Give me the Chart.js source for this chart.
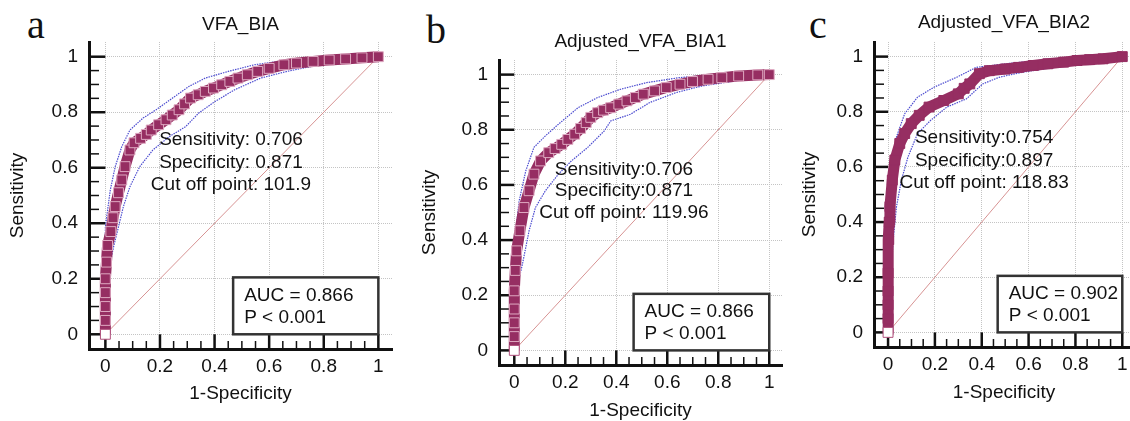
<!DOCTYPE html>
<html>
<head>
<meta charset="utf-8">
<script src="https://cdn.jsdelivr.net/npm/chart.js@4.4.1/dist/chart.umd.min.js"></script>
<style>
  html, body { margin: 0; padding: 0; background: #fff; overflow: hidden; }
  body { width: 1130px; height: 421px; position: relative; }
  canvas { position: absolute; top: 0; }
  .tag { position: absolute; font-family: "Liberation Serif", "Times New Roman", serif; font-size: 40px; line-height: 1; color: #111; }
</style>
</head>
<body>
<div class="tag" style="left:27px;top:5px">a</div>
<div class="tag" style="left:426px;top:10px">b</div>
<div class="tag" style="left:809px;top:5px">c</div>
<canvas id="rocA" width="400" height="440" style="left:0px"></canvas>
<canvas id="rocB" width="380" height="440" style="left:410px"></canvas>
<canvas id="rocC" width="352" height="440" style="left:790px"></canvas>
<script>
// ---- axis ticks ----
const tickVals = [0, 0.2, 0.4, 0.6, 0.8, 1];
const tickLabels = ['0', '0.2', '0.4', '0.6', '0.8', '1'];
const minorTicks = [0.05, 0.1, 0.15, 0.25, 0.3, 0.35, 0.45, 0.5, 0.55, 0.65, 0.7, 0.75, 0.85, 0.9, 0.95];
const diagX = [0, 1];
const diagY = [0, 1];

// ---- panel a : VFA_BIA ----
const rocA_x = [0, 0, 0, 0, 0, 0.004, 0.008, 0.02, 0.028, 0.036, 0.048, 0.06, 0.072, 0.09, 0.105, 0.129, 0.15, 0.168, 0.195, 0.222, 0.245, 0.27, 0.29, 0.312, 0.34, 0.366, 0.396, 0.426, 0.456, 0.486, 0.52, 0.558, 0.6, 0.654, 0.7, 0.761, 0.82, 0.88, 0.94, 1];
const rocA_y = [0, 0.05, 0.1, 0.15, 0.2, 0.26, 0.32, 0.37, 0.42, 0.46, 0.51, 0.556, 0.604, 0.664, 0.69, 0.706, 0.72, 0.736, 0.755, 0.773, 0.79, 0.809, 0.83, 0.851, 0.863, 0.875, 0.887, 0.899, 0.911, 0.923, 0.935, 0.947, 0.958, 0.971, 0.977, 0.983, 0.988, 0.992, 0.996, 1];
const upA_x = [0, 0, 0.018, 0.036, 0.06, 0.09, 0.138, 0.186, 0.246, 0.306, 0.366, 0.45, 0.546, 0.665, 0.785, 0.905, 1];
const upA_y = [0.3, 0.387, 0.52, 0.604, 0.676, 0.736, 0.779, 0.809, 0.851, 0.893, 0.923, 0.947, 0.971, 0.987, 0.995, 1, 1];
const loA_x = [0, 0.005, 0.016, 0.03, 0.048, 0.066, 0.09, 0.126, 0.174, 0.234, 0.294, 0.342, 0.402, 0.474, 0.569, 0.665, 0.785, 0.905, 1];
const loA_y = [0, 0.1, 0.25, 0.315, 0.387, 0.46, 0.532, 0.604, 0.664, 0.712, 0.748, 0.797, 0.839, 0.881, 0.923, 0.947, 0.971, 0.989, 1];

// ---- panel b : Adjusted_VFA_BIA1 ----
const rocB_x = [0, 0, 0, 0, 0, 0.004, 0.009, 0.022, 0.038, 0.058, 0.077, 0.103, 0.135, 0.16, 0.186, 0.21, 0.237, 0.26, 0.282, 0.3, 0.327, 0.35, 0.378, 0.41, 0.442, 0.475, 0.506, 0.55, 0.596, 0.65, 0.699, 0.76, 0.814, 0.88, 0.955, 1];
const rocB_y = [0, 0.05, 0.1, 0.15, 0.216, 0.29, 0.361, 0.434, 0.518, 0.579, 0.639, 0.687, 0.717, 0.732, 0.747, 0.765, 0.784, 0.805, 0.826, 0.845, 0.862, 0.871, 0.88, 0.893, 0.905, 0.917, 0.929, 0.941, 0.953, 0.965, 0.975, 0.983, 0.989, 0.995, 0.999, 1];
const upB_x = [0, 0, 0.019, 0.045, 0.077, 0.122, 0.173, 0.25, 0.327, 0.417, 0.519, 0.647, 0.776, 0.94, 1];
const upB_y = [0.3, 0.385, 0.542, 0.651, 0.736, 0.778, 0.82, 0.88, 0.917, 0.947, 0.971, 0.989, 0.999, 1, 1];
const loB_x = [0, 0.005, 0.016, 0.032, 0.058, 0.083, 0.122, 0.173, 0.224, 0.288, 0.353, 0.378, 0.455, 0.532, 0.635, 0.737, 0.865, 0.994, 1];
const loB_y = [0, 0.1, 0.25, 0.313, 0.434, 0.518, 0.579, 0.639, 0.687, 0.736, 0.796, 0.832, 0.856, 0.899, 0.935, 0.959, 0.977, 0.995, 1];

// ---- panel c : Adjusted_VFA_BIA2 ----
const rocC_x = [0, 0, 0, 0, 0, 0.003, 0.005, 0.008, 0.018, 0.029, 0.05, 0.071, 0.099, 0.133, 0.175, 0.238, 0.3, 0.325, 0.349, 0.39, 0.432, 0.5, 0.557, 0.62, 0.682, 0.75, 0.807, 0.86, 0.918, 1];
const rocC_y = [0, 0.05, 0.1, 0.15, 0.215, 0.336, 0.4, 0.456, 0.552, 0.625, 0.685, 0.721, 0.757, 0.787, 0.817, 0.841, 0.865, 0.885, 0.901, 0.938, 0.949, 0.955, 0.961, 0.968, 0.974, 0.98, 0.986, 0.989, 0.992, 1];
const upC_x = [0, 0.001, 0.015, 0.036, 0.071, 0.126, 0.196, 0.293, 0.376, 0.501, 0.64, 0.779, 0.918, 1];
const upC_y = [0.3, 0.384, 0.576, 0.709, 0.793, 0.853, 0.889, 0.925, 0.961, 0.974, 0.986, 0.997, 1, 1];
const loC_x = [0, 0.008, 0.022, 0.036, 0.057, 0.085, 0.126, 0.182, 0.251, 0.335, 0.404, 0.474, 0.571, 0.71, 0.849, 1];
const loC_y = [0, 0.15, 0.336, 0.456, 0.552, 0.636, 0.721, 0.769, 0.817, 0.847, 0.901, 0.925, 0.943, 0.961, 0.976, 1];

const FONT = '"Liberation Sans", Arial, sans-serif';
const CURVE = '#962e62';
const BAND = '#4c4cd0';

const toPts = (xs, ys) => xs.map((x, i) => ({ x: x, y: ys[i] }));

// inward axis ticks, cut-off text and the AUC box
const decor = {
  id: 'decor',
  beforeDatasetsDraw(chart) {
    const ctx = chart.ctx, xs = chart.scales.x, ys = chart.scales.y, ca = chart.chartArea;
    ctx.save();
    ctx.strokeStyle = '#111';
    ctx.lineWidth = 1.5;
    minorTicks.forEach(v => {
      const py = ys.getPixelForValue(v), px = xs.getPixelForValue(v);
      ctx.beginPath(); ctx.moveTo(ca.left, py); ctx.lineTo(ca.left + 10, py); ctx.stroke();
      ctx.beginPath(); ctx.moveTo(px, ca.bottom); ctx.lineTo(px, ca.bottom - 8); ctx.stroke();
    });
    ctx.lineWidth = 2.5;
    tickVals.forEach(v => {
      const py = ys.getPixelForValue(v), px = xs.getPixelForValue(v);
      ctx.beginPath(); ctx.moveTo(ca.left, py); ctx.lineTo(xs.getPixelForValue(0), py); ctx.stroke();
      ctx.beginPath(); ctx.moveTo(px, ca.bottom); ctx.lineTo(px, ys.getPixelForValue(0)); ctx.stroke();
    });
    ctx.restore();
  },
  afterDatasetsDraw(chart, args, opts) {
    const ctx = chart.ctx, xs = chart.scales.x, ys = chart.scales.y;
    ctx.save();
    ctx.fillStyle = '#111';
    ctx.font = '19px ' + FONT;
    ctx.textAlign = 'center';
    ctx.textBaseline = 'middle';
    const cx = xs.getPixelForValue(opts.noteX);
    const cy = ys.getPixelForValue(opts.noteY);
    opts.notes.forEach((t, i) => ctx.fillText(t, cx, cy + i * opts.noteGap));

    const bl = xs.getPixelForValue(0.468), br = xs.getPixelForValue(1.0);
    const bt = ys.getPixelForValue(0.205), bb = ys.getPixelForValue(0.0);
    ctx.fillStyle = '#fff';
    ctx.fillRect(bl, bt, br - bl, bb - bt);
    ctx.strokeStyle = '#333';
    ctx.lineWidth = 2.5;
    ctx.strokeRect(bl, bt, br - bl, bb - bt);
    ctx.fillStyle = '#111';
    ctx.font = '19px ' + FONT;
    ctx.textAlign = 'left';
    ctx.fillText(opts.auc, bl + 11, bt + 18);
    ctx.fillText('P < 0.001', bl + 11, bt + 40);
    ctx.restore();
  }
};

function makePanel(p) {
  const roc = toPts(p.rx, p.ry);
  const fills = roc.map((d, i) => i === 0 ? '#fff' : CURVE);
  const edges = roc.map((d, i) => i === 0 ? '#b0507c' : p.stripe);
  const tickFont = { family: FONT, size: 19 };
  return new Chart(document.getElementById(p.id), {
    type: 'scatter',
    data: {
      datasets: [
        {
          data: roc, showLine: true, borderColor: CURVE, borderWidth: 11,
          borderJoinStyle: 'round', pointStyle: 'rect', pointRadius: 7,
          pointBackgroundColor: fills, pointBorderColor: edges, pointBorderWidth: 1
        },
        { data: toPts(p.ux, p.uy), showLine: true, borderColor: BAND, borderWidth: 1.2, borderDash: [1.5, 1], pointRadius: 0 },
        { data: toPts(p.lx, p.ly), showLine: true, borderColor: BAND, borderWidth: 1.2, borderDash: [1.5, 1], pointRadius: 0 },
        { data: toPts(diagX, diagY), showLine: true, borderColor: '#d79393', borderWidth: 1, pointRadius: 0 }
      ]
    },
    options: {
      responsive: false, animation: false, devicePixelRatio: 1,
      layout: { padding: { left: 0, right: 2, top: 0, bottom: 0 } },
      plugins: {
        legend: { display: false },
        tooltip: { enabled: false },
        title: {
          display: true, fullSize: false, text: p.title, color: '#111',
          font: { family: FONT, size: 19, weight: 'normal' },
          padding: { top: p.titleTop, bottom: p.titleBottom }
        },
        decor: { notes: p.notes, noteX: p.noteX, noteY: p.noteY, noteGap: p.noteGap, auc: p.auc }
      },
      scales: {
        x: {
          type: 'linear', min: -0.06, max: 1.05,
          afterBuildTicks: s => { s.ticks = tickVals.map(v => ({ value: v })); },
          afterFit: s => { s.height = p.xH; },
          ticks: { callback: (v, i) => tickLabels[i], color: '#111', font: tickFont, padding: 6, maxRotation: 0, autoSkip: false },
          grid: { color: '#c4c4c4', lineWidth: 1, drawTicks: false },
          border: { display: true, color: '#111', width: 3, dash: [1, 1] },
          title: { display: true, text: '1-Specificity', color: '#111', font: tickFont, padding: { top: 0, bottom: p.xTitlePad } }
        },
        y: {
          type: 'linear', min: -0.053, max: 1.053,
          afterBuildTicks: s => { s.ticks = tickVals.map(v => ({ value: v })); },
          afterFit: s => { s.width = p.yW; },
          ticks: { callback: (v, i) => tickLabels[i], color: '#111', font: tickFont, padding: 11, autoSkip: false },
          grid: { color: '#c4c4c4', lineWidth: 1, drawTicks: false },
          border: { display: true, color: '#111', width: 3, dash: [1, 1] },
          title: { display: true, text: 'Sensitivity', color: '#111', font: tickFont, padding: { top: p.yTitlePad, bottom: 0 } }
        }
      }
    },
    plugins: [decor]
  });
}

makePanel({
  id: 'rocA', title: 'VFA_BIA', rx: rocA_x, ry: rocA_y, ux: upA_x, uy: upA_y, lx: loA_x, ly: loA_y,
  stripe: '#dfaac2', titleTop: 13.6, titleBottom: 5.6, xH: 91, xTitlePad: 34.6, yW: 89, yTitlePad: 6.6,
  notes: ['Sensitivity: 0.706', 'Specificity: 0.871', 'Cut off point: 101.9'], noteX: 0.46, noteY: 0.70, noteGap: 22.5,
  auc: 'AUC = 0.866'
});
makePanel({
  id: 'rocB', title: 'Adjusted_VFA_BIA1', rx: rocB_x, ry: rocB_y, ux: upB_x, uy: upB_y, lx: loB_x, ly: loB_y,
  stripe: '#dfaac2', titleTop: 30.6, titleBottom: 6.6, xH: 75, xTitlePad: 17.6, yW: 89, yTitlePad: 8.6,
  notes: ['Sensitivity:0.706', 'Specificity:0.871', 'Cut off point: 119.96'], noteX: 0.43, noteY: 0.656, noteGap: 21.5,
  auc: 'AUC = 0.866'
});
makePanel({
  id: 'rocC', title: 'Adjusted_VFA_BIA2', rx: rocC_x, ry: rocC_y, ux: upC_x, uy: upC_y, lx: loC_x, ly: loC_y,
  stripe: CURVE, titleTop: 11.6, titleBottom: 7.6, xH: 93, xTitlePad: 35.6, yW: 84, yTitlePad: 8.6,
  notes: ['Sensitivity:0.754', 'Specificity:0.897', 'Cut off point: 118.83'], noteX: 0.41, noteY: 0.704, noteGap: 22.5,
  auc: 'AUC = 0.902'
});
</script>
</body>
</html>
